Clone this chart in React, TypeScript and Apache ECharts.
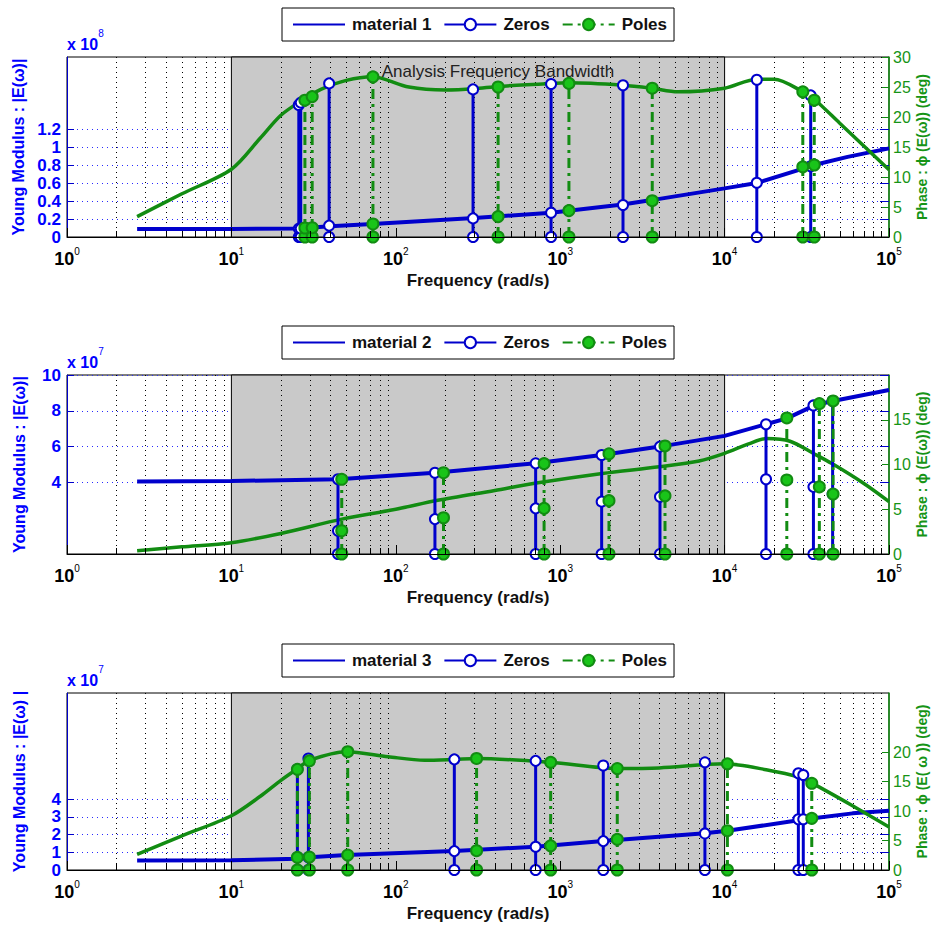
import React, { useEffect, useRef } from 'react';
import * as echarts from 'echarts';

const FONT = '"Liberation Sans", Arial, Helvetica, sans-serif';
const BLUE = '#0000cc';
const BLUE_TXT = '#0000ff';
const GREEN = '#128c12';
const GREEN_FILL = '#19c419';
const GREEN_TXT = '#169416';
const GREY = '#c9c9c9';

// Frequency axis (rad/s)
const MINOR_FREQS = [
  2, 3, 4, 5, 6, 7, 8, 9,
  20, 30, 40, 50, 60, 70, 80, 90,
  200, 300, 400, 500, 600, 700, 800, 900,
  2000, 3000, 4000, 5000, 6000, 7000, 8000, 9000,
  20000, 30000, 40000, 50000, 60000, 70000, 80000, 90000,
];
const BAND = [10, 10000];
const BAND_LABEL = 'Analysis Frequency Bandwidth';

// ---------- Panel 1 (material 1), |E| in x1e8, phase in deg ----------
const magFreq1 = [2.67, 10, 25, 40, 72, 300, 880, 2400, 3600, 10000, 15700, 30000, 35000, 56000, 100000];
const mag1 = [0.089, 0.09, 0.095, 0.12, 0.145, 0.21, 0.27, 0.36, 0.41, 0.54, 0.6, 0.76, 0.8, 0.89, 0.985];
const phaseFreq1 = [2.67, 5, 10, 15, 20, 27, 35, 50, 72, 120, 200, 300, 420, 880, 1130, 2400, 3600, 5200, 10000, 15700, 20000, 30000, 35000, 50000, 100000];
const phase1 = [3.4, 7.2, 11.3, 16.5, 20.3, 22.8, 24.6, 26.1, 26.7, 25.0, 24.5, 24.7, 25.1, 25.6, 25.7, 25.3, 24.8, 24.2, 24.8, 26.3, 26.3, 24.2, 23.0, 19.0, 11.2];
const zeroFreq1 = [25.7, 26.4, 39.3, 295, 880, 2410, 15700, 33400];
const zeroMid1 = [1.4, 1.4, 1.9, 3.1, 4.05, 5.33, 9.05, 11.8];
const zeroTop1 = [22.0, 22.4, 25.6, 24.6, 25.5, 25.3, 26.2, 23.6];
const poleFreq1 = [28, 31, 72.6, 419, 1130, 3630, 29900, 35100];
const poleMid1 = [1.5, 1.55, 2.17, 3.4, 4.4, 6.05, 11.7, 12.0];
const poleTop1 = [22.8, 23.4, 26.7, 25.0, 25.6, 24.8, 24.2, 22.8];
const leftTicks1 = [0, 0.2, 0.4, 0.6, 0.8, 1, 1.2];
const rightTicks1 = [0, 5, 10, 15, 20, 25, 30];

// ---------- Panel 2 (material 2), |E| in x1e7 ----------
const magFreq2 = [2.67, 10, 44.5, 173, 709, 1787, 4045, 10000, 17860, 23900, 35500, 45700, 100000];
const mag2 = [4.05, 4.08, 4.17, 4.54, 5.07, 5.53, 6.0, 6.6, 7.25, 7.58, 8.32, 8.55, 9.16];
const phaseFreq2 = [2.67, 5, 10, 20, 47, 100, 180, 400, 700, 1800, 4000, 7000, 10000, 14000, 18000, 25000, 35000, 45000, 70000, 100000];
const phase2 = [0.37, 0.8, 1.26, 2.3, 3.9, 5.0, 6.0, 7.1, 7.9, 9.0, 9.75, 10.4, 11.25, 12.3, 12.9, 12.6, 11.2, 10.1, 7.9, 5.85];
const zeroFreq2 = [44.5, 173, 709, 1787, 4045, 17860, 34700, 45400];
const zeroMid2 = [2.6, 3.9, 5.1, 5.85, 6.4, 8.35, 7.5, 6.7];
const zeroTop2 = [8.35, 9.08, 10.13, 11.06, 12.0, 14.5, 16.6, 17.1];
const poleFreq2 = [46.9, 195, 798, 1980, 4340, 23900, 37700, 45700];
const poleMid2 = [2.6, 4.05, 5.1, 5.96, 6.5, 8.27, 7.5, 6.7];
const poleTop2 = [8.35, 9.08, 10.1, 11.2, 12.07, 15.2, 16.8, 17.1];
const leftTicks2 = [4, 6, 8, 10];
const rightTicks2 = [0, 5, 10, 15];

// ---------- Panel 3 (material 3), |E| in x1e7 ----------
const magFreq3 = [2.67, 10, 25, 30, 50, 227, 709, 1828, 7590, 10400, 28800, 34700, 60000, 100000];
const mag3 = [0.53, 0.55, 0.64, 0.72, 0.85, 1.07, 1.32, 1.64, 2.07, 2.22, 2.82, 2.92, 3.2, 3.35];
const phaseFreq3 = [2.67, 5, 10, 15, 20, 25, 30, 50, 90, 150, 228, 310, 875, 2224, 4000, 10000, 17900, 28800, 34700, 60000, 100000];
const phase3 = [2.66, 5.8, 9.2, 12.5, 15.2, 17.1, 18.6, 20.05, 19.2, 18.6, 18.75, 18.9, 18.25, 17.2, 17.3, 18.0, 17.0, 15.7, 14.6, 10.9, 7.3];
const zeroFreq3 = [25.2, 29.4, 227, 709, 1828, 7590, 28100, 30100];
const zeroMid3 = [2.15, 2.15, 3.2, 3.95, 4.9, 6.2, 8.6, 8.6];
const zeroTop3 = [17.07, 18.9, 18.75, 18.5, 17.7, 18.25, 16.4, 16.1];
const poleFreq3 = [25.2, 29.8, 51, 310, 875, 2224, 10400, 33900];
const poleMid3 = [2.15, 2.2, 2.54, 3.27, 4.1, 5.2, 6.66, 8.76];
const poleTop3 = [17.07, 18.5, 20.05, 18.9, 18.25, 17.2, 18.0, 14.7];
const leftTicks3 = [0, 1, 2, 3, 4];
const rightTicks3 = [0, 5, 10, 15, 20];

const panels = [
  {
    name: 'material 1', magF: magFreq1, mag: mag1, phF: phaseFreq1, ph: phase1,
    zf: zeroFreq1, zm: zeroMid1, zt: zeroTop1, pf: poleFreq1, pm: poleMid1, pt: poleTop1,
    leftMax: 2, leftTicks: leftTicks1, rightMax: 30, rightTicks: rightTicks1, exp: '8',
    leftName: 'Young Modulus : |E(ω)|', rightName: 'Phase : ϕ (E(ω)) (deg)', band: true,
  },
  {
    name: 'material 2', magF: magFreq2, mag: mag2, phF: phaseFreq2, ph: phase2,
    zf: zeroFreq2, zm: zeroMid2, zt: zeroTop2, pf: poleFreq2, pm: poleMid2, pt: poleTop2,
    leftMax: 10, leftTicks: leftTicks2, rightMax: 20, rightTicks: rightTicks2, exp: '7',
    leftName: 'Young Modulus : |E(ω)|', rightName: 'Phase : ϕ (E(ω)) (deg)', band: false,
  },
  {
    name: 'material 3', magF: magFreq3, mag: mag3, phF: phaseFreq3, ph: phase3,
    zf: zeroFreq3, zm: zeroMid3, zt: zeroTop3, pf: poleFreq3, pm: poleMid3, pt: poleTop3,
    leftMax: 10, leftTicks: leftTicks3, rightMax: 30, rightTicks: rightTicks3, exp: '7',
    leftName: 'Young Modulus : |E(ω) |', rightName: 'Phase : ϕ (E( ω )) (deg)', band: false,
  },
];

// layout
const GRID_TOPS = [57, 375, 693];
const GRID_HEIGHTS = [180, 179, 177];
const LEGEND_TOPS = [8, 326, 644];
const GRID_LEFT = 67;
const GRID_RIGHT = 46;

function zip(xs: number[], ys: number[]) {
  return xs.map((x, i) => [x, ys[i]]);
}
function stems(f: number[], mid: number[], top: number[]) {
  const out: any[] = [];
  f.forEach((x, i) => {
    out.push([x, 0], [x, mid[i]], [x, top[i]], [x, '-']);
  });
  return out;
}

const minorGridItem = (params: any, api: any) => {
  const p = api.coord([api.value(0), 0]);
  const cs = params.coordSys;
  const x = Math.round(p[0]) + 0.5;
  return {
    type: 'line',
    shape: { x1: x, y1: cs.y, x2: x, y2: cs.y + cs.height },
    style: { stroke: '#000', lineWidth: 1, lineDash: [1, 4] },
  };
};
const minorTickItem = (params: any, api: any) => {
  const p = api.coord([api.value(0), 0]);
  const x = Math.round(p[0]) + 0.5;
  return {
    type: 'line',
    shape: { x1: x, y1: p[1], x2: x, y2: p[1] - 6 },
    style: { stroke: '#000', lineWidth: 1 },
  };
};

function buildOption() {
  const grid: any[] = [];
  const xAxis: any[] = [];
  const yAxis: any[] = [];
  const series: any[] = [];
  const legend: any[] = [];
  const graphic: any[] = [];

  panels.forEach((p, i) => {
    grid.push({
      left: GRID_LEFT, right: GRID_RIGHT, top: GRID_TOPS[i], height: GRID_HEIGHTS[i],
      show: true, borderColor: '#000', borderWidth: 1, backgroundColor: '#fff',
      containLabel: false, outerBoundsMode: 'none',
    });
    xAxis.push({
      type: 'log', logBase: 10, min: 1, max: 100000, gridIndex: i, position: 'bottom', z: 10,
      axisLine: { show: true, lineStyle: { color: '#000', width: 1 } },
      axisTick: { show: true, inside: true, length: 9, lineStyle: { color: '#000' } },
      minorTick: { show: false },
      splitLine: { show: false },
      axisLabel: {
        margin: 9,
        formatter: (v: number) => `{b|10}{s|${Math.round(Math.log10(v))}}`,
        rich: {
          b: { fontSize: 18, fontWeight: 'bold', color: '#000', fontFamily: FONT, lineHeight: 22, verticalAlign: 'bottom' },
          s: { fontSize: 10, color: '#000', fontFamily: FONT, lineHeight: 8, verticalAlign: 'top' },
        },
      },
      name: 'Frequency (rad/s)', nameLocation: 'middle', nameGap: 35,
      nameTextStyle: { fontSize: 17, fontWeight: 'bold', color: '#111', fontFamily: FONT },
    });
    // left (magnitude)
    yAxis.push({
      type: 'value', gridIndex: i, position: 'left', min: 0, max: p.leftMax, z: 1,
      axisLine: { show: true, lineStyle: { color: BLUE, width: 1 } },
      axisTick: { show: true, inside: true, length: 7, lineStyle: { color: BLUE }, customValues: p.leftTicks },
      axisLabel: { color: BLUE_TXT, fontSize: 17, fontWeight: 'bold', fontFamily: FONT, margin: 6, customValues: p.leftTicks },
      splitLine: { show: true, lineStyle: { color: '#2a2aff', width: 1, type: [1, 4] } },
      name: p.leftName, nameLocation: 'middle', nameGap: 40, nameRotate: 90,
      nameTextStyle: { color: BLUE_TXT, fontSize: 16, fontWeight: 'bold', fontFamily: FONT },
    });
    // right (phase)
    yAxis.push({
      type: 'value', gridIndex: i, position: 'right', min: 0, max: p.rightMax, z: 1,
      axisLine: { show: true, lineStyle: { color: GREEN, width: 1.5 } },
      axisTick: { show: true, inside: true, length: 7, lineStyle: { color: GREEN }, customValues: p.rightTicks },
      axisLabel: { color: GREEN_TXT, fontSize: 16, fontFamily: FONT, margin: 4, customValues: p.rightTicks },
      splitLine: { show: false },
      name: p.rightName, nameLocation: 'middle', nameGap: 26, nameRotate: 90, nameMoveOverlap: false,
      nameTextStyle: { color: GREEN_TXT, fontSize: 14, fontWeight: 'bold', fontFamily: FONT },
    });
    // mirrored magnitude ticks on the right edge
    yAxis.push({
      type: 'value', gridIndex: i, position: 'right', min: 0, max: p.leftMax, z: 1,
      axisLine: { show: false },
      axisTick: { show: true, inside: true, length: 9, lineStyle: { color: BLUE }, customValues: p.leftTicks },
      axisLabel: { show: false },
      splitLine: { show: false },
    });

    const yL = 3 * i;
    const yR = 3 * i + 1;

    series.push({
      type: 'custom', xAxisIndex: i, yAxisIndex: yL, z: 1, silent: true,
      renderItem: minorGridItem, data: MINOR_FREQS.map((f) => [f, 0]), encode: { x: 0, y: 1 },
    });
    series.push({
      type: 'line', name: 'band' + i, xAxisIndex: i, yAxisIndex: yL, z: 2, silent: true, data: [],
      markArea: {
        silent: true,
        itemStyle: { color: GREY, borderColor: '#000', borderWidth: 1, opacity: 1 },
        label: p.band
          ? { show: true, position: 'insideTop', offset: [20, 1], color: '#222', fontSize: 17, fontFamily: FONT, formatter: BAND_LABEL }
          : { show: false },
        data: [[{ xAxis: BAND[0] }, { xAxis: BAND[1] }]],
      },
    });
    series.push({
      type: 'custom', xAxisIndex: i, yAxisIndex: yL, z: 10, silent: true,
      renderItem: minorTickItem, data: MINOR_FREQS.map((f) => [f, 0]), encode: { x: 0, y: 1 },
    });
    series.push({
      type: 'line', name: p.name, xAxisIndex: i, yAxisIndex: yL, z: 4, symbol: 'none',
      lineStyle: { color: BLUE, width: 4 }, itemStyle: { color: BLUE, opacity: 0 },
      data: zip(p.magF, p.mag),
    });
    series.push({
      type: 'line', name: 'phase' + i, xAxisIndex: i, yAxisIndex: yR, z: 4, symbol: 'none', smooth: 0.3,
      lineStyle: { color: GREEN, width: 3.5 }, itemStyle: { color: GREEN },
      data: zip(p.phF, p.ph),
    });
    series.push({
      type: 'line', name: 'Zeros', xAxisIndex: i, yAxisIndex: yR, z: 5,
      symbol: 'emptyCircle', symbolSize: 10, showSymbol: true,
      lineStyle: { color: BLUE, width: 3 }, itemStyle: { color: BLUE, borderWidth: 2.5 },
      data: stems(p.zf, p.zm, p.zt),
    });
    series.push({
      type: 'line', name: 'Poles', xAxisIndex: i, yAxisIndex: yR, z: 6,
      symbol: 'circle', symbolSize: 11, showSymbol: true,
      lineStyle: { color: GREEN, width: 3, type: [10, 5, 3, 5] },
      itemStyle: { color: GREEN_FILL, borderColor: GREEN, borderWidth: 2 },
      data: stems(p.pf, p.pm, p.pt),
    });

    legend.push({
      data: [p.name, 'Zeros', 'Poles'],
      left: 282, top: LEGEND_TOPS[i], orient: 'horizontal',
      backgroundColor: '#fff', borderColor: '#000', borderWidth: 1, borderRadius: 0,
      padding: [8, 7, 8, 10], itemGap: 12, itemWidth: 52, itemHeight: 14,
      selectedMode: false,
      textStyle: { fontSize: 17, fontWeight: 'bold', color: '#111', fontFamily: FONT, padding: [0, 0, 0, 2] },
    });

    graphic.push({
      type: 'text', left: GRID_LEFT, top: GRID_TOPS[i] - 29,
      style: {
        text: `{a|x 10}{e|${p.exp}}`,
        rich: {
          a: { fontSize: 16, fontWeight: 'bold', fill: BLUE_TXT, fontFamily: FONT, lineHeight: 24, verticalAlign: 'bottom' },
          e: { fontSize: 10, fill: BLUE_TXT, fontFamily: FONT, lineHeight: 8, verticalAlign: 'top' },
        },
      },
    });
  });

  return { animation: false, backgroundColor: '#fff', grid, xAxis, yAxis, series, legend, graphic };
}

export default function App() {
  const ref = useRef<HTMLDivElement>(null);
  useEffect(() => {
    if (!ref.current) return;
    const chart = echarts.init(ref.current, undefined, { renderer: 'svg' });
    chart.setOption(buildOption() as any);
    return () => chart.dispose();
  }, []);
  return <div ref={ref} style={{ position: 'absolute', left: 0, top: 0, width: 935, height: 928 }} />;
}
